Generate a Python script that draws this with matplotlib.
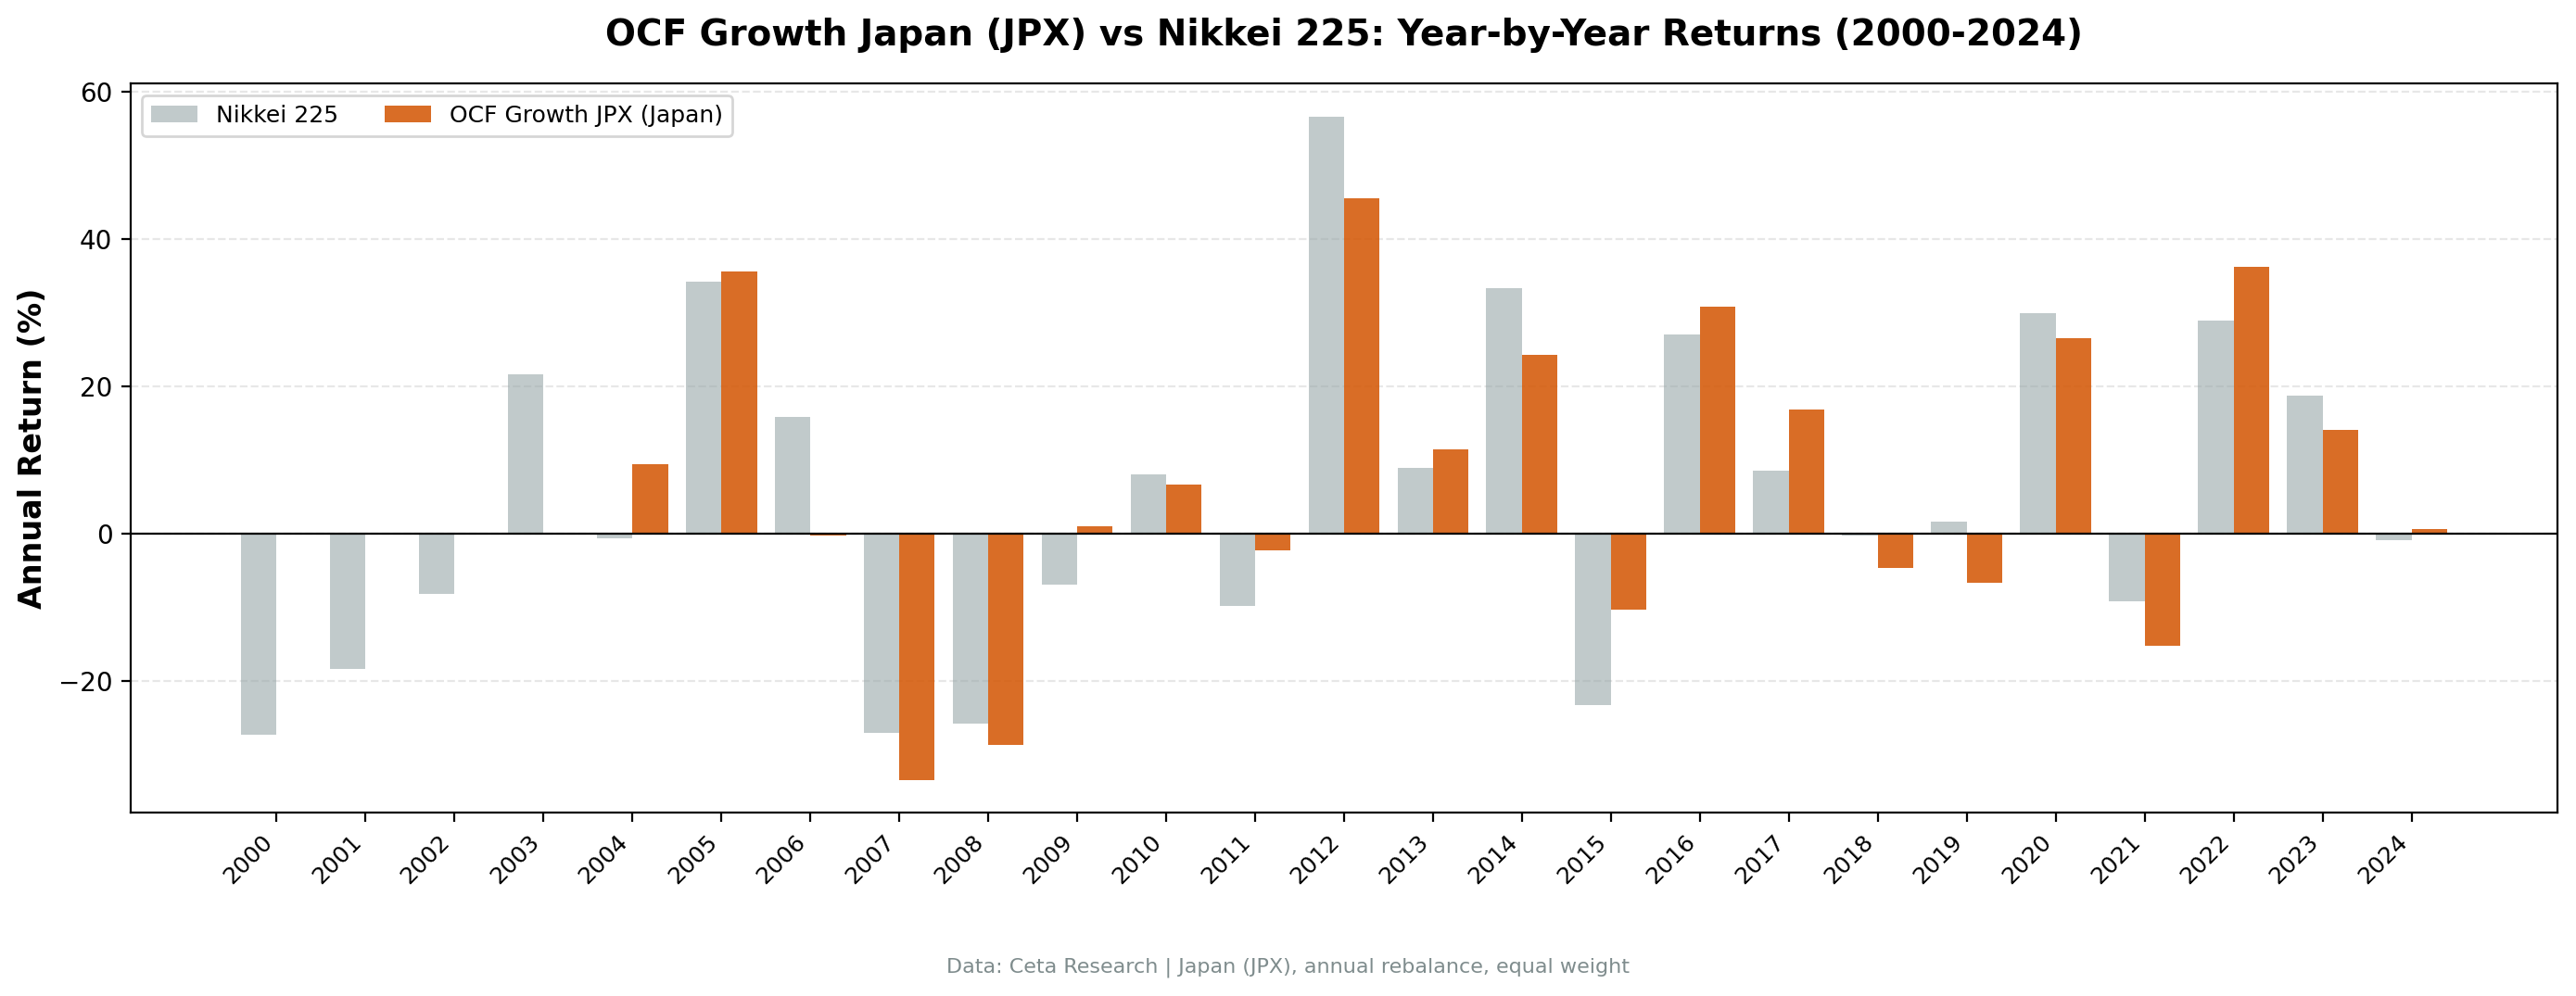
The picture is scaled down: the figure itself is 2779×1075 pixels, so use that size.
import numpy as np
import matplotlib
matplotlib.use("Agg")
import matplotlib.pyplot as plt

# --- DATA (annual returns, %) ---
years = list(range(2000, 2025))
nikkei = [-27.3, -18.4, -8.2, 21.7, -0.6, 34.2, 15.9, -27.0, -25.8, -6.9,
          8.1, -9.8, 56.6, 8.9, 33.4, -23.2, 27.1, 8.6, -0.2, 1.7,
          29.9, -9.2, 29.0, 18.7, -0.9]
ocf_growth = [0.0, 0.0, 0.0, 0.0, 9.5, 35.6, -0.25, -33.4, -28.7, 1.0,
              6.7, -2.3, 45.5, 11.5, 24.3, -10.3, 30.8, 16.9, -4.6, -6.7,
              26.6, -15.2, 36.2, 14.1, 0.7]

title = 'OCF Growth Japan (JPX) vs Nikkei 225: Year-by-Year Returns (2000-2024)'
footer = 'Data: Ceta Research | Japan (JPX), annual rebalance, equal weight'

# --- PLOT ---
fig = plt.figure(figsize=(13.895, 5.375), dpi=200)
ax = fig.add_axes([0.0507, 0.1838, 0.9421, 0.7322])

x = np.arange(len(years))
width = 0.4

ax.bar(x - width / 2, nikkei, width, color='#95a5a6', alpha=0.58, label='Nikkei 225')
ax.bar(x + width / 2, ocf_growth, width, color='#d35400', alpha=0.85,
       label='OCF Growth JPX (Japan)')

ax.axhline(0, color='black', linewidth=0.8)
ax.set_xticks(x)
ax.set_xticklabels([str(y) for y in years], rotation=45, ha='right', fontsize=9)
ax.tick_params(axis='y', labelsize=10)
ax.set_ylabel('Annual Return (%)', fontsize=12, fontweight='bold')
ax.set_title(title, fontsize=14, fontweight='bold', pad=15)
ax.grid(axis='y', linestyle='--', alpha=0.3)
ax.set_axisbelow(True)
ax.legend(loc='upper left', ncol=2, fontsize=9)

fig.text(0.5, 0.029, footer, ha='center', va='center', fontsize=8, color='#7f8c8d')

fig.savefig('out.png', dpi=200)
